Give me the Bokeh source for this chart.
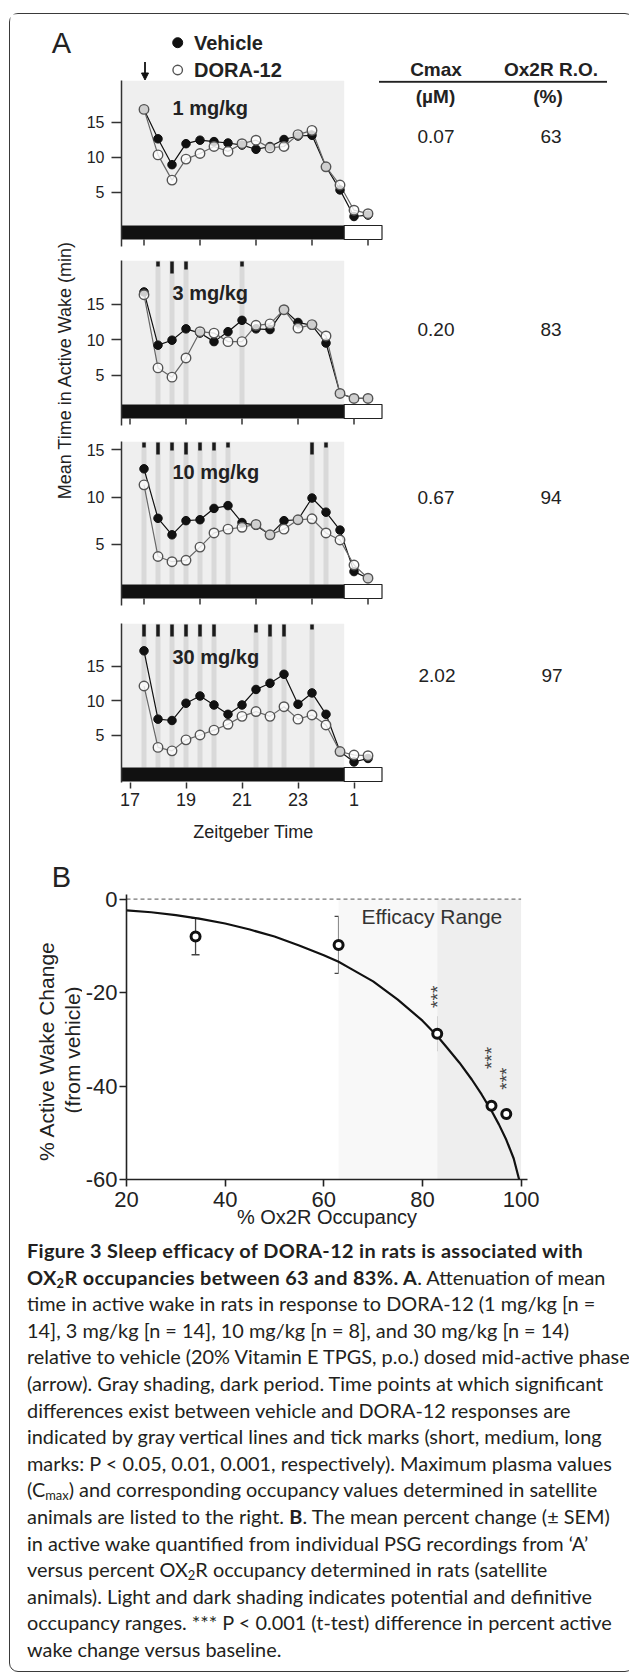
import math
from bokeh.plotting import figure
from bokeh.models import Range1d, FixedTicker, Whisker, TeeHead, Arrow, NormalHead, Div, ColumnDataSource
from bokeh.layouts import column, row
from bokeh.embed import file_html
from bokeh.resources import INLINE
from bokeh.core.properties import value

FONT = "Liberation Sans"
INK = "#222222"

# ---------------- data: panel A ----------------
times = [17.5, 18.0, 18.5, 19.0, 19.5, 20.0, 20.5, 21.0, 21.5, 22.0, 22.5, 23.0, 23.5, 24.0, 24.5, 25.0, 25.5]

veh_1mg = [16.8, 12.6, 8.9, 11.9, 12.4, 12.2, 12.0, 11.7, 11.1, 11.5, 12.5, 13.0, 13.1, 8.6, 5.3, 1.5, 1.7]
dora_1mg = [16.8, 10.3, 6.7, 9.7, 10.5, 11.5, 10.8, 11.9, 12.4, 11.3, 11.5, 13.2, 13.8, 8.6, 6.0, 2.4, 1.9]
veh_3mg = [16.7, 9.2, 9.9, 11.5, 10.9, 9.7, 11.1, 12.7, 11.5, 11.4, 14.2, 12.4, 12.0, 9.5, 2.4, 1.7, 1.7]
dora_3mg = [16.3, 6.0, 4.7, 7.4, 11.1, 10.9, 9.7, 9.7, 12.0, 12.2, 14.2, 11.6, 12.1, 10.5, 2.4, 1.7, 1.7]
veh_10mg = [13.0, 7.75, 6.0, 7.5, 7.6, 8.8, 9.1, 7.3, 7.0, 6.0, 7.5, 7.6, 9.9, 8.4, 6.5, 2.1, 1.4]
dora_10mg = [11.3, 3.7, 3.15, 3.3, 4.7, 6.2, 6.6, 6.8, 7.1, 6.0, 6.6, 7.6, 7.7, 6.2, 5.45, 2.8, 1.4]
veh_30mg = [17.2, 7.3, 7.1, 9.6, 10.65, 9.35, 8.0, 9.35, 11.6, 12.5, 13.8, 9.45, 11.1, 8.0, 2.6, 1.1, 1.6]
dora_30mg = [12.1, 3.2, 2.7, 4.3, 5.0, 5.7, 6.55, 7.7, 8.4, 7.7, 9.1, 7.3, 7.9, 6.45, 2.6, 2.1, 2.0]

# significance: time point and level (1: P<0.05 short, 2: P<0.01 medium, 3: P<0.001 long)
sig_t_1mg, sig_l_1mg = [], []
sig_t_3mg = [18.0, 18.5, 19.0, 21.0]
sig_l_3mg = [1, 3, 2, 1]
sig_t_10mg = [17.5, 18.0, 18.5, 19.0, 19.5, 20.0, 20.5, 23.5, 24.0]
sig_l_10mg = [1, 3, 2, 3, 2, 2, 1, 3, 1]
sig_t_30mg = [17.5, 18.0, 18.5, 19.0, 19.5, 20.0, 21.5, 22.0, 22.5, 23.5]
sig_l_30mg = [3, 3, 3, 3, 3, 3, 2, 3, 3, 1]

doses = ["1 mg/kg", "3 mg/kg", "10 mg/kg", "30 mg/kg"]
cmax_um = ["0.07", "0.20", "0.67", "2.02"]
ox2r_ro = ["63", "83", "94", "97"]

ticks_a = [17.5, 19.5, 21.5, 23.5, 25.5]
ticks_b = [17, 19, 21, 23, 25]
tick_labels = {17: "17", 19: "19", 21: "21", 23: "23", 25: "1"}
dark_end = 24.65
record_end = 26.0

# ---------------- data: panel B ----------------
occupancy = [34, 63, 83, 94, 97]
wake_change = [-8.0, -9.8, -28.8, -44.2, -46.0]
wake_sem = [3.9, 6.1, 3.6, 5.9, 3.3]
signif_b = ["", "", "***", "***", "***"]
fit_occ = [20, 25, 30, 35, 40, 45, 50, 55, 60, 63, 65, 70, 75, 80, 83, 85, 87.5, 90, 92, 94, 95.5, 97, 98.5, 99.6]
fit_change = [-2.4, -2.8, -3.4, -4.2, -5.2, -6.5, -8.0, -9.9, -12.0, -13.4, -14.6, -17.6, -21.5, -26.0, -29.3,
              -31.8, -35.0, -38.6, -41.8, -45.3, -48.2, -51.5, -55.5, -60.0]
light_range = (63, 83)
dark_range = (83, 100)
b_yticks = [-60, -40, -20, 0]
b_ylabels = {-60: "-60", -40: "-40", -20: "-20", 0: "0"}

# ---------------- layout geometry (page pixels) ----------------
SUB_W = 541
FRAME_L = 39
PX_PER_H = 28.0
X0 = 17.5 - (144.0 - 121.5) / PX_PER_H
X1 = X0 + 497 / PX_PER_H
LAST_FRAME_W = 264          # panel 4 frame covers only the recording, so its axis title centres there
X1_LAST = X0 + LAST_FRAME_W / PX_PER_H
PB_H = 379

panels = [
    dict(top=80.5, zero=227.0, ppu=7.0, fh=160, bb=20, veh=veh_1mg, dora=dora_1mg, st=sig_t_1mg, sl=sig_l_1mg,
         ticks=ticks_a, lab_y=108.0, tab_y=136.0),
    dict(top=260.5, zero=410.5, ppu=7.1, fh=159, bb=22, veh=veh_3mg, dora=dora_3mg, st=sig_t_3mg, sl=sig_l_3mg,
         ticks=ticks_b, lab_y=292.7, tab_y=329.0),
    dict(top=441.5, zero=591.4, ppu=9.43, fh=158, bb=24, veh=veh_10mg, dora=dora_10mg, st=sig_t_10mg, sl=sig_l_10mg,
         ticks=ticks_a, lab_y=471.7, tab_y=497.0),
    dict(top=623.5, zero=769.5, ppu=6.9, fh=159, bb=74, veh=veh_30mg, dora=dora_30mg, st=sig_t_30mg, sl=sig_l_30mg,
         ticks=ticks_b, lab_y=656.7, tab_y=675.0),
]


def hx(absx):
    return 17.5 + (absx - 144.0) / PX_PER_H


def txt(p, x, y, s, size, bold=False, align="left", baseline="middle", angle=0.0, color=INK, font=FONT):
    p.text(x=[x], y=[y], text=[s], text_font=value(font), text_font_size=f"{size}px",
           text_font_style="bold" if bold else "normal", text_align=align, text_baseline=baseline,
           angle=angle, text_color=color)


def bare(p):
    p.outline_line_color = None
    p.grid.visible = False
    p.background_fill_color = "white"
    p.border_fill_color = "white"


sub_rows = []
for i, pp in enumerate(panels):
    ppu, zero = pp["ppu"], pp["zero"]
    last = i == len(panels) - 1
    ext = 0 if last else 6
    fbot = pp["top"] + pp["fh"]
    hi = (zero - pp["top"]) / ppu
    lo = (zero - (fbot + ext)) / ppu
    bar_bot = (zero - (fbot - 1)) / ppu
    bar_top = (zero - (fbot - 15)) / ppu
    fig_h = pp["fh"] + pp["bb"]
    width = FRAME_L + LAST_FRAME_W if last else SUB_W
    p = figure(width=width, height=fig_h, x_range=Range1d(X0, X1_LAST if last else X1), y_range=Range1d(lo, hi),
               output_backend="svg", toolbar_location=None, title=None, min_border_left=FRAME_L,
               min_border_right=0 if last else 5, min_border_top=0, min_border_bottom=pp["bb"] - ext,
               frame_align=False)
    bare(p)
    # dark-period shading
    p.quad(left=[X0], right=[dark_end], bottom=[bar_top], top=[hi], fill_color="#efefef", line_color=None)
    # significance lines and tick marks
    if pp["st"]:
        p.segment(x0=pp["st"], x1=pp["st"], y0=[bar_top] * len(pp["st"]), y1=[hi] * len(pp["st"]),
                  line_color="#d9d9d9", line_width=5)
        lens = {1: 5, 2: 8, 3: 12}
        y1 = hi - 1.0 / ppu
        p.segment(x0=pp["st"], x1=pp["st"], y0=[y1 - lens[l] / ppu for l in pp["sl"]], y1=[y1] * len(pp["st"]),
                  line_color="#1a1a1a", line_width=3.5)
    # light/dark bar
    p.quad(left=[X0], right=[dark_end], bottom=[bar_bot], top=[bar_top], fill_color="#111111", line_color=None)
    p.quad(left=[dark_end], right=[record_end], bottom=[bar_bot], top=[bar_top], fill_color="white",
           line_color="#222222", line_width=1.2)
    if not last:
        tk = pp["ticks"]
        p.segment(x0=tk, x1=tk, y0=[bar_bot] * len(tk), y1=[(zero - (fbot + 5)) / ppu] * len(tk),
                  line_color="#333333", line_width=1.5)
    # series
    p.line(times, pp["veh"], line_color="#111111", line_width=1.2)
    p.line(times, pp["dora"], line_color="#666666", line_width=1.2)
    p.scatter(times, pp["veh"], size=8.5, fill_color="#111111", line_color="#111111", marker="circle")
    p.scatter(times, pp["dora"], size=9.5, fill_color="white", fill_alpha=0.8, line_color="#555555",
              line_width=1.4, marker="circle")
    # dose label
    txt(p, hx(172.5), (zero - pp["lab_y"]) / ppu, doses[i], 20, bold=True)
    # table values
    if not last:
        ty = (zero - pp["tab_y"]) / ppu
        txt(p, hx(436), ty, cmax_um[i], 19, align="center")
        txt(p, hx(551), ty, ox2r_ro[i], 19, align="center")
    if i == 0:
        uy = (zero - 81.8) / ppu
        p.segment(x0=[hx(379)], x1=[hx(607)], y0=[uy], y1=[uy], line_color=INK, line_width=2)
        hy = (zero - 96.7) / ppu
        txt(p, hx(435.5), hy, "(\u00b5M)", 19, bold=True, align="center")
        txt(p, hx(548), hy, "(%)", 19, bold=True, align="center")
    # axes
    ya = p.yaxis[0]
    ya.ticker = FixedTicker(ticks=[5, 10, 15])
    ya.axis_line_width = 1.5
    ya.axis_line_color = "#333333"
    ya.major_tick_out = 10
    ya.major_tick_in = 0
    ya.major_tick_line_width = 1.5
    ya.major_tick_line_color = "#333333"
    ya.minor_tick_line_color = None
    ya.major_label_standoff = 7
    ya.major_label_text_font = FONT
    ya.major_label_text_font_size = "16px"
    ya.major_label_text_color = INK
    if last:
        xa = p.xaxis[0]
        xa.ticker = FixedTicker(ticks=pp["ticks"])
        xa.axis_line_color = None
        xa.major_tick_out = 6
        xa.major_tick_in = 0
        xa.major_tick_line_width = 1.5
        xa.major_tick_line_color = "#333333"
        xa.minor_tick_line_color = None
        xa.major_label_overrides = tick_labels
        xa.major_label_text_font = FONT
        xa.major_label_text_font_size = "18px"
        xa.major_label_text_color = INK
        xa.major_label_standoff = 4
        xa.axis_label = "Zeitgeber Time"
        xa.axis_label_text_font = FONT
        xa.axis_label_text_font_size = "18px"
        xa.axis_label_text_font_style = "normal"
        xa.axis_label_text_color = INK
        xa.axis_label_standoff = 13
        # table values of the last panel, beside the plot (page-pixel coordinates)
        x_left = 82.5 + width
        tab = figure(width=SUB_W - width, height=fig_h, x_range=Range1d(x_left, 82.5 + SUB_W),
                     y_range=Range1d(pp["top"] + fig_h, pp["top"]), output_backend="svg", toolbar_location=None,
                     title=None, min_border=0, x_axis_type=None, y_axis_type=None, frame_align=False)
        bare(tab)
        txt(tab, 437, pp["tab_y"], cmax_um[i], 19, align="center")
        txt(tab, 552, pp["tab_y"], ox2r_ro[i], 19, align="center")
        sub_rows.append(row(p, tab, spacing=0))
    else:
        p.xaxis.visible = False
        sub_rows.append(p)

# ---------------- panel B ----------------
pB = figure(width=SUB_W, height=PB_H, x_range=Range1d(20, 101.3), y_range=Range1d(-60, 1),
            output_backend="svg", toolbar_location=None, title=None, min_border_left=43, min_border_right=96,
            min_border_top=38, min_border_bottom=PB_H - 38 - 285, frame_align=False)
bare(pB)
pB.quad(left=[light_range[0]], right=[light_range[1]], bottom=[-60], top=[0], fill_color="#f8f8f8", line_color=None)
pB.quad(left=[dark_range[0]], right=[dark_range[1]], bottom=[-60], top=[0], fill_color="#eeeeee", line_color=None)
pB.segment(x0=[20], x1=[100], y0=[0], y1=[0], line_color="#777777", line_width=1.2, line_dash="4 3")
pB.line(fit_occ, fit_change, line_color="#111111", line_width=2.2)
srcB = ColumnDataSource(dict(x=occupancy, y=wake_change,
                             up=[m + s for m, s in zip(wake_change, wake_sem)],
                             lo=[m - s for m, s in zip(wake_change, wake_sem)],
                             star_y=[m + s + 4.3 for m, s in zip(wake_change, wake_sem)],
                             star=signif_b))
wh = Whisker(source=srcB, base="x", upper="up", lower="lo", line_color="#444444", line_width=1.3,
             upper_head=TeeHead(size=8, line_color="#444444", line_width=1.3),
             lower_head=TeeHead(size=8, line_color="#444444", line_width=1.3))
pB.add_layout(wh)
pB.scatter("x", "y", source=srcB, size=9, fill_color="white", line_color="#111111", line_width=3, marker="circle")
pB.text(x="x", y="star_y", text="star", source=srcB, angle=math.pi / 2, text_font=value(FONT),
        text_font_size="19px", text_align="center", text_baseline="middle", text_color="#444444")
txt(pB, 81.9, -3.8, "Efficacy Range", 21, align="center", color="#333333")
for ax in (pB.xaxis[0], pB.yaxis[0]):
    ax.axis_line_width = 1.6
    ax.axis_line_color = INK
    ax.major_tick_out = 7
    ax.major_tick_in = 0
    ax.major_tick_line_width = 1.6
    ax.major_tick_line_color = INK
    ax.minor_tick_line_color = None
    ax.major_label_text_font = FONT
    ax.major_label_text_font_size = "22px"
    ax.major_label_text_color = INK
    ax.major_label_standoff = 2
pB.xaxis[0].major_label_standoff = 5
pB.yaxis[0].ticker = FixedTicker(ticks=b_yticks)
pB.yaxis[0].major_label_overrides = b_ylabels
pB.xaxis[0].ticker = FixedTicker(ticks=[20, 40, 60, 80, 100])
pB.xaxis[0].axis_label = "% Ox2R Occupancy"
pB.xaxis[0].axis_label_text_font = FONT
pB.xaxis[0].axis_label_text_font_size = "20px"
pB.xaxis[0].axis_label_text_font_style = "normal"
pB.xaxis[0].axis_label_text_color = INK
pB.xaxis[0].axis_label_standoff = -4

# ---------------- left column (labels) ----------------
left_h = sum(pp["fh"] + pp["bb"] for pp in panels) + PB_H
left = figure(width=72, height=left_h, x_range=Range1d(9.5, 81.5), y_range=Range1d(80.5 + left_h, 80.5),
              output_backend="svg", toolbar_location=None, title=None, min_border=0,
              x_axis_type=None, y_axis_type=None, frame_align=False)
bare(left)
txt(left, 64, 370, "Mean Time in Active Wake (min)", 18, align="center", angle=math.pi / 2)
txt(left, 60.5, 877, "B", 29, align="center")
txt(left, 45, 1051, "% Active Wake Change", 21, align="center", angle=math.pi / 2)
txt(left, 71, 1050, "(from vehicle)", 21, align="center", angle=math.pi / 2)

# ---------------- header ----------------
head = figure(width=613, height=66, x_range=Range1d(9.5, 622.5), y_range=Range1d(80.5, 14.5),
              output_backend="svg", toolbar_location=None, title=None, min_border=0,
              x_axis_type=None, y_axis_type=None, frame_align=False)
bare(head)
txt(head, 60.5, 43.3, "A", 29, align="center")
head.scatter([176.7], [42.7], size=10, marker="circle", fill_color="#111111", line_color="#111111")
head.scatter([176.7], [70.0], size=9.5, marker="circle", fill_color="white", line_color="#555555", line_width=1.4)
txt(head, 193, 43, "Vehicle", 20, bold=True)
txt(head, 193, 69.5, "DORA-12", 20, bold=True)
txt(head, 435, 69, "Cmax", 19, bold=True, align="center")
txt(head, 550, 69, "Ox2R R.O.", 19, bold=True, align="center")
head.add_layout(Arrow(x_start=144, y_start=62, x_end=144, y_end=80, line_width=1.8, line_color="#111111",
                      end=NormalHead(size=7, fill_color="#111111", line_color="#111111")))

# ---------------- caption ----------------
sub_css = 'style="font-size:0.65em; line-height:0; vertical-align:-0.25em"'
b_css = 'style="font-weight:700; letter-spacing:0.35px"'
lines = [
    f"<span {b_css}>Figure 3 Sleep efficacy of DORA-12 in rats is associated with</span>",
    f"<span {b_css}>OX<sub {sub_css}>2</sub>R occupancies between 63 and 83%. A</span>. Attenuation of mean",
    "time in active wake in rats in response to DORA-12 (1 mg/kg [n =",
    "14], 3 mg/kg [n = 14], 10 mg/kg [n = 8], and 30 mg/kg [n = 14)",
    "relative to vehicle (20% Vitamin E TPGS, p.o.) dosed mid-active phase",
    "(arrow). Gray shading, dark period. Time points at which significant",
    "differences exist between vehicle and DORA-12 responses are",
    "indicated by gray vertical lines and tick marks (short, medium, long",
    "marks: P &lt; 0.05, 0.01, 0.001, respectively). Maximum plasma values",
    f"(C<sub {sub_css}>max</sub>) and corresponding occupancy values determined in satellite",
    f"animals are listed to the right. <span {b_css}>B</span>. The mean percent change (\u00b1 SEM)",
    "in active wake quantified from individual PSG recordings from \u2018A\u2019",
    f"versus percent OX<sub {sub_css}>2</sub>R occupancy determined in rats (satellite",
    "animals). Light and dark shading indicates potential and definitive",
    "occupancy ranges. *** P &lt; 0.001 (t-test) difference in percent active",
    "wake change versus baseline.",
]
cap_html = ('<div style="font-family: Lato, sans-serif; font-size: 19.9px; line-height: 26.6px; '
            'color:#231f20; white-space:nowrap; padding-left:12px; margin:0; position:relative; top:-3px;">'
            + "<br>".join(lines) + "</div>")
caption = Div(text=cap_html, width=613, height=426, styles={"overflow": "visible"})

panelA_B = row(left, column(*sub_rows, pB, spacing=0), spacing=0)
page = column(head, panelA_B, caption, spacing=0,
              styles={"border": "1.5px solid #3a3a3a", "border-radius": "9px",
                      "margin-top": "13px", "margin-left": "9px"})

open("out.html", "w").write(file_html(page, INLINE))
